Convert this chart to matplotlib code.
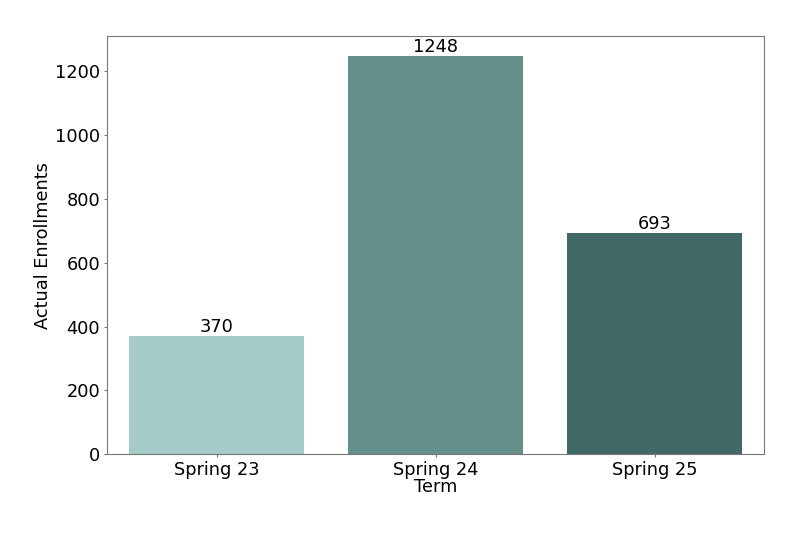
import matplotlib
matplotlib.use('Agg')
import matplotlib.pyplot as plt

terms = ['Spring 23', 'Spring 24', 'Spring 25']
enrollments = [370, 1248, 693]
colors = ['#A4CBC8', '#658F8B', '#416965']

fig, ax = plt.subplots(figsize=(8, 5.33), dpi=100)
fig.subplots_adjust(left=0.134, right=0.955, top=0.932, bottom=0.148)

bars = ax.bar(terms, enrollments, width=0.8, color=colors)
ax.bar_label(bars, labels=[str(v) for v in enrollments], fontsize=12.8, padding=0)
ax.set_xlim(-0.5, 2.5)

ax.set_xlabel('Term', fontsize=12.8, labelpad=-1)
ax.set_ylabel('Actual Enrollments', fontsize=12.8, labelpad=2)
ax.tick_params(labelsize=12.8, length=2.5, pad=2.5, color='#777777')
for s in ax.spines.values():
    s.set_color('#777777')

fig.savefig('out.png', dpi=100)
